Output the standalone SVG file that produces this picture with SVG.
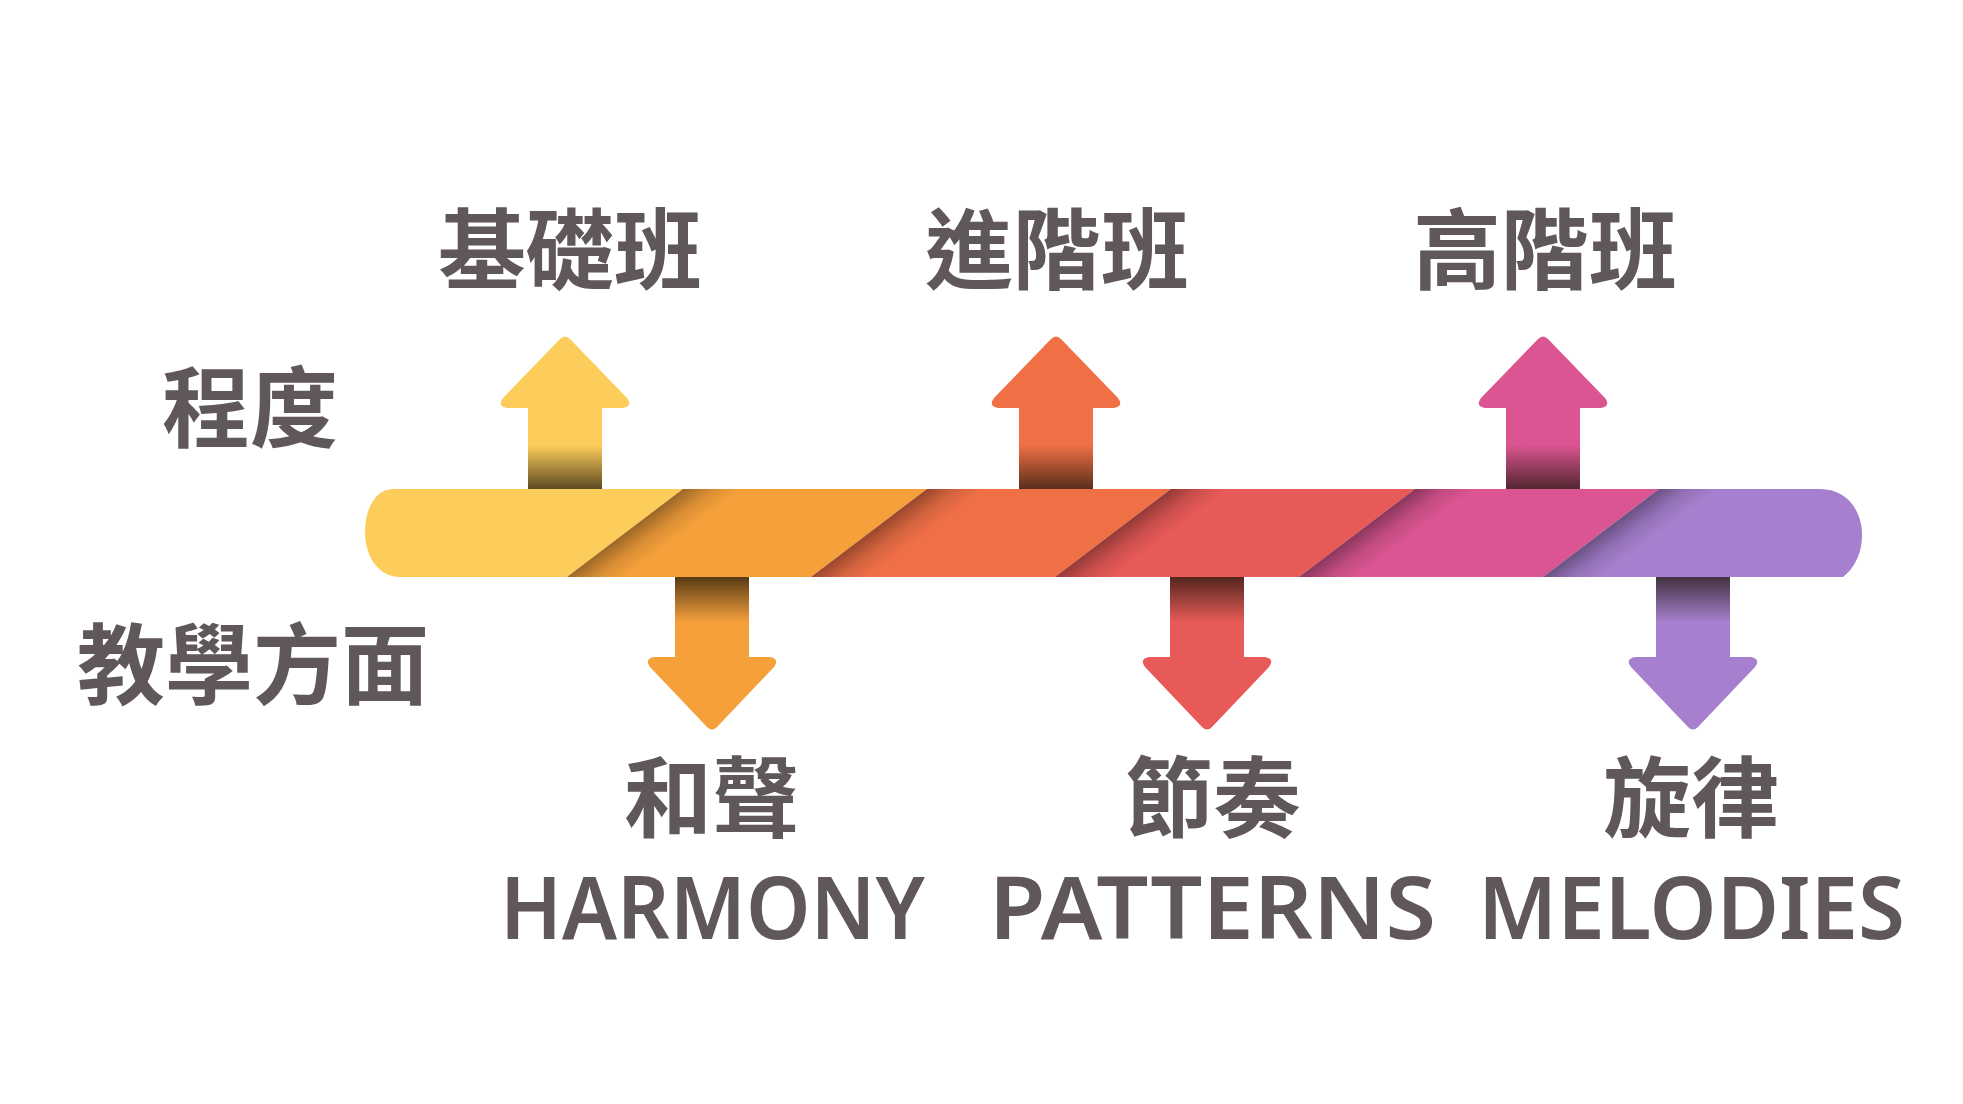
<svg xmlns="http://www.w3.org/2000/svg" width="1963" height="1104" viewBox="0 0 1963 1104">
  <style>
    .cjk { font-family: "Noto Sans CJK TC", "Noto Sans CJK SC", sans-serif; font-weight: 700; font-size: 88px; fill: #5f5758; text-anchor: middle; }
    .en { font-family: "Noto Sans", "Open Sans", sans-serif; font-weight: 600; font-size: 86px; fill: #5f5758; }
  </style>
  <defs>
    <clipPath id="barClip">
      <path d="M393,489 L1820,489 C1848,489 1862,512 1862,535 C1862,556 1852,570 1843,577 L400,577 C378,577 365,556 365,532 C365,508 376,489 393,489 Z"/>
    </clipPath>
    <linearGradient id="stripeShadow" gradientUnits="userSpaceOnUse" x1="625" y1="533" x2="646" y2="561">
      <stop offset="0" stop-color="#000" stop-opacity="0.36"/>
      <stop offset="0.5" stop-color="#000" stop-opacity="0.12"/>
      <stop offset="1" stop-color="#000" stop-opacity="0"/>
    </linearGradient>
    <linearGradient id="upShade" x1="0" y1="1" x2="0" y2="0">
      <stop offset="0" stop-color="#1a1208" stop-opacity="0.72"/>
      <stop offset="1" stop-color="#1a1208" stop-opacity="0"/>
    </linearGradient>
    <linearGradient id="downShade" x1="0" y1="0" x2="0" y2="1">
      <stop offset="0" stop-color="#1a1208" stop-opacity="0.72"/>
      <stop offset="1" stop-color="#1a1208" stop-opacity="0"/>
    </linearGradient>
    <path id="upArrow" d="M-5,3 Q0,-2 5,3 L62,62 Q68,70 58,72 L37,72 L37,154 L-37,154 L-37,72 L-58,72 Q-68,70 -62,62 Z"/>
    <path id="downArrow" d="M-37,0 L37,0 L37,80 L58,80 Q68,82 62,90 L5,150 Q0,155 -5,150 L-62,90 Q-68,82 -58,80 L-37,80 Z"/>
    <polygon id="shadowStrip" points="567,577 683,489 760,489 644,577"/>
  </defs>
  <rect width="1963" height="1104" fill="#ffffff"/>

  <g id="connectors">
    <g id="arrow-up-1">
      <use href="#upArrow" transform="translate(565,336)" fill="#fccd5b"/>
      <rect x="528" y="445" width="74" height="45" fill="url(#upShade)"/>
    </g>
    <g id="arrow-up-2">
      <use href="#upArrow" transform="translate(1056,336)" fill="#f07046"/>
      <rect x="1019" y="445" width="74" height="45" fill="url(#upShade)"/>
    </g>
    <g id="arrow-up-3">
      <use href="#upArrow" transform="translate(1543,336)" fill="#da5591"/>
      <rect x="1506" y="445" width="74" height="45" fill="url(#upShade)"/>
    </g>
    <g id="arrow-down-1">
      <use href="#downArrow" transform="translate(712,577)" fill="#f5a03b"/>
      <rect x="675" y="577" width="74" height="45" fill="url(#downShade)"/>
    </g>
    <g id="arrow-down-2">
      <use href="#downArrow" transform="translate(1207,577)" fill="#e85a57"/>
      <rect x="1170" y="577" width="74" height="45" fill="url(#downShade)"/>
    </g>
    <g id="arrow-down-3">
      <use href="#downArrow" transform="translate(1693,577)" fill="#a680ce"/>
      <rect x="1656" y="577" width="74" height="45" fill="url(#downShade)"/>
    </g>
  </g>

  <g id="bar" clip-path="url(#barClip)">
    <polygon points="340,489 683,489 567,577 340,577" fill="#fccd5b"/>
    <polygon points="683,489 927,489 811,577 567,577" fill="#f5a03b"/>
    <polygon points="927,489 1171,489 1055,577 811,577" fill="#f07046"/>
    <polygon points="1171,489 1415,489 1299,577 1055,577" fill="#e85a57"/>
    <polygon points="1415,489 1659,489 1543,577 1299,577" fill="#da5591"/>
    <polygon points="1659,489 1900,489 1900,577 1543,577" fill="#a680ce"/>
    <use href="#shadowStrip" fill="url(#stripeShadow)"/>
    <use href="#shadowStrip" fill="url(#stripeShadow)" transform="translate(244,0)"/>
    <use href="#shadowStrip" fill="url(#stripeShadow)" transform="translate(488,0)"/>
    <use href="#shadowStrip" fill="url(#stripeShadow)" transform="translate(732,0)"/>
    <use href="#shadowStrip" fill="url(#stripeShadow)" transform="translate(976,0)"/>
  </g>

  <g id="label-level"><text class="cjk" x="250" y="440">程度</text></g>
  <g id="label-teaching"><text class="cjk" x="253" y="697">教學方面</text></g>

  <g id="node-basic"><text class="cjk" x="570" y="282">基礎班</text></g>
  <g id="node-intermediate"><text class="cjk" x="1057" y="282">進階班</text></g>
  <g id="node-advanced"><text class="cjk" x="1545" y="282">高階班</text></g>

  <g id="node-harmony">
    <text class="cjk" x="712" y="830">和聲</text>
    <text class="en" x="500" y="939" textLength="425" lengthAdjust="spacingAndGlyphs">HARMONY</text>
  </g>
  <g id="node-patterns">
    <text class="cjk" x="1213" y="830">節奏</text>
    <text class="en" x="989" y="939" textLength="447" lengthAdjust="spacingAndGlyphs">PATTERNS</text>
  </g>
  <g id="node-melodies">
    <text class="cjk" x="1691" y="830">旋律</text>
    <text class="en" x="1478" y="939" textLength="427" lengthAdjust="spacingAndGlyphs">MELODIES</text>
  </g>
</svg>
